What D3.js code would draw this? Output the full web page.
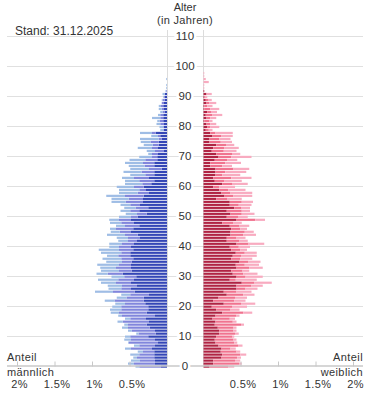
<!DOCTYPE html>
<html>
<head>
<meta charset="utf-8">
<script src="https://cdn.jsdelivr.net/npm/d3@7"></script>
<style>
  body { margin: 0; background: #fff; }
  text { font-family: "Liberation Sans", Arial, sans-serif; fill: #333; }
</style>
</head>
<body>
<div id="pyramid"></div>
<script>
// Bevoelkerungspyramide, Anteile je Altersjahr in Prozent

// ages 0..98 (one value per age)
const maleDark = [0.08,0.16,0.16,0.17,0.17,0.17,0.20,0.16,0.12,0.16,
  0.25,0.15,0.16,0.23,0.27,0.24,0.28,0.16,0.27,0.25,
  0.25,0.29,0.31,0.31,0.24,0.43,0.48,0.40,0.48,0.44,
  0.41,0.59,0.47,0.48,0.48,0.47,0.45,0.49,0.49,0.45,
  0.48,0.44,0.40,0.36,0.39,0.48,0.45,0.37,0.44,0.48,
  0.39,0.27,0.37,0.25,0.36,0.32,0.32,0.31,0.24,0.28,
  0.31,0.21,0.17,0.24,0.17,0.17,0.07,0.17,0.17,0.13,
  0.13,0.12,0.04,0.12,0.11,0.11,0.07,0.09,0.15,0.04,
  0.04,0.04,0.05,0.05,0.05,0.03,0.04,0.05,0.04,0.03,
  0.03,0.03,0,0,0,0,0,0,0];
const maleMid = [0.29,0.28,0.20,0.23,0.20,0.15,0.28,0.21,0.39,0.32,
  0.24,0.23,0.31,0.29,0.25,0.35,0.21,0.44,0.37,0.36,
  0.36,0.27,0.39,0.23,0.25,0.29,0.13,0.20,0.20,0.21,
  0.16,0.20,0.17,0.20,0.16,0.13,0.16,0.16,0.12,0.19,
  0.16,0.16,0.12,0.16,0.17,0.15,0.23,0.19,0.17,0.16,
  0.09,0.13,0.12,0.17,0.13,0.23,0.19,0.25,0.15,0.09,
  0.13,0.12,0.20,0.20,0.12,0.17,0.17,0.13,0.15,0.16,
  0.07,0.08,0.12,0.08,0.08,0.11,0.04,0.03,0.05,0.01,
  0.01,0.05,0.05,0.04,0.04,0.03,0.03,0.03,0.03,0.03,
  0.01,0,0.01,0,0,0,0,0,0];
const maleLight = [0.05,0.08,0.12,0.05,0.12,0.07,0.08,0.07,0.01,0.09,
  0.07,0.03,0.05,0.08,0.05,0.07,0.07,0.05,0.11,0.15,
  0.12,0.13,0.13,0.13,0.12,0.24,0.17,0.19,0.20,0.27,
  0.17,0.15,0.24,0.21,0.29,0.21,0.25,0.15,0.27,0.27,
  0.13,0.17,0.13,0.15,0.24,0.12,0.08,0.12,0.15,0.13,
  0.16,0.15,0.13,0.15,0.13,0.19,0.23,0.25,0.25,0.27,
  0.23,0.23,0.19,0.16,0.20,0.24,0.25,0.21,0.24,0.21,
  0.17,0.05,0.11,0.19,0.12,0.13,0.25,0.09,0.16,0.04,
  0.05,0.05,0.03,0.11,0.03,0.03,0.04,0.03,0,0.01,
  0.01,0.03,0.01,0.01,0.01,0,0.01,0,0];

const femaleDark = [0.08,0.13,0.13,0.24,0.25,0.23,0.24,0.20,0.16,0.15,
  0.17,0.21,0.21,0.19,0.15,0.16,0.12,0.16,0.25,0.17,
  0.11,0.27,0.13,0.20,0.31,0.27,0.44,0.44,0.51,0.35,
  0.44,0.39,0.37,0.44,0.43,0.48,0.37,0.39,0.43,0.37,
  0.35,0.44,0.31,0.31,0.36,0.36,0.37,0.35,0.25,0.44,
  0.31,0.36,0.31,0.41,0.35,0.35,0.17,0.28,0.24,0.21,
  0.13,0.25,0.15,0.13,0.16,0.16,0.16,0.09,0.09,0.15,
  0.20,0.17,0.11,0.13,0.17,0.08,0.08,0.12,0.09,0.03,
  0.05,0.04,0.01,0.04,0.03,0.05,0.01,0.01,0.04,0.03,
  0.01,0.04,0.01,0,0,0,0,0,0];
const femaleMid = [0.25,0.35,0.29,0.21,0.24,0.21,0.12,0.26,0.25,0.25,
  0.21,0.21,0.19,0.21,0.35,0.23,0.23,0.28,0.28,0.19,
  0.27,0.23,0.28,0.22,0.22,0.17,0.12,0.20,0.17,0.08,
  0.12,0.14,0.15,0.17,0.12,0.12,0.12,0.11,0.12,0.12,
  0.12,0.16,0.17,0.13,0.17,0.19,0.12,0.13,0.15,0.25,
  0.15,0.15,0.20,0.09,0.12,0.16,0.15,0.12,0.12,0.12,
  0.08,0.13,0.13,0.24,0.09,0.13,0.24,0.16,0.20,0.17,
  0.17,0.21,0.16,0.15,0.13,0.15,0.13,0.12,0.07,0.04,
  0.04,0.05,0.07,0.05,0.09,0.05,0.08,0.04,0.04,0.03,
  0.01,0,0,0,0,0,0,0,0];
const femaleLight = [0.08,0.03,0.07,0.05,0.08,0.05,0.07,0.06,0.04,0.04,
  0.03,0.05,0.04,0.04,0.04,0.05,0.07,0.04,0.12,0.12,
  0.20,0.19,0.15,0.16,0.15,0.20,0.16,0.15,0.23,0.28,
  0.23,0.19,0.09,0.18,0.19,0.16,0.16,0.21,0.16,0.09,
  0.15,0.21,0.11,0.12,0.17,0.12,0.09,0.13,0.11,0.13,
  0.13,0.17,0.11,0.12,0.17,0.15,0.19,0.25,0.29,0.23,
  0.21,0.21,0.23,0.27,0.24,0.28,0.21,0.13,0.21,0.13,
  0.27,0.11,0.17,0.19,0.11,0.15,0.15,0.15,0.23,0.05,
  0.12,0.08,0.04,0.08,0.13,0.08,0.12,0.07,0.09,0.05,
  0.03,0.07,0,0.01,0.01,0.07,0.03,0.01,0.01];

const ageTicks = d3.range(0, 111, 10);
const shareTicks = [0.5, 1, 1.5, 2];

const width = 375;
const height = 416;

const svg = d3.select("#pyramid")
  .append("svg")
  .attr("width", width)
  .attr("height", height);

// scales
const y = d3.scaleLinear().domain([0, 110]).range([365.5, 36]);
const xL = d3.scaleLinear().domain([0, 2]).range([167, 17]);
const xR = d3.scaleLinear().domain([0, 2]).range([203, 353]);
const barH = (y(0) - y(1)) - 0.8;

// grid
svg.append("g")
  .selectAll("line")
  .data(ageTicks.filter(d => d > 0))
  .join("line")
    .attr("x1", 7).attr("x2", 363)
    .attr("y1", d => Math.round(y(d)) + 0.5)
    .attr("y2", d => Math.round(y(d)) + 0.5)
    .attr("stroke", "#e0e0e0");

svg.append("g")
  .selectAll("line")
  .data([167, 203])
  .join("line")
    .attr("x1", d => d + 0.5).attr("x2", d => d + 0.5)
    .attr("y1", 30).attr("y2", y(0))
    .attr("stroke", "#dcdcdc");

// stacked bars
const rows = maleDark.map((d, i) => ({
  age: i,
  md: d, mm: maleMid[i], ml: maleLight[i],
  fd: femaleDark[i], fm: femaleMid[i], fl: femaleLight[i]
}));

const maleStack = d3.stack().keys(["md", "mm", "ml"])(rows);
const femaleStack = d3.stack().keys(["fd", "fm", "fl"])(rows);

const maleColor = d3.scaleOrdinal(["md", "mm", "ml"], ["#3446b6", "#8186dc", "#9fbde5"]);
const femaleColor = d3.scaleOrdinal(["fd", "fm", "fl"], ["#b02444", "#f0738f", "#f8abc0"]);

svg.append("g")
  .selectAll("g")
  .data(maleStack)
  .join("g")
    .attr("fill", s => maleColor(s.key))
  .selectAll("rect")
  .data(s => s.filter(d => d[1] > d[0]))
  .join("rect")
    .attr("x", d => xL(d[1]))
    .attr("width", d => xL(d[0]) - xL(d[1]))
    .attr("y", d => y(d.data.age))
    .attr("height", barH);

svg.append("g")
  .selectAll("g")
  .data(femaleStack)
  .join("g")
    .attr("fill", s => femaleColor(s.key))
  .selectAll("rect")
  .data(s => s.filter(d => d[1] > d[0]))
  .join("rect")
    .attr("x", d => xR(d[0]) + 0.5)
    .attr("width", d => xR(d[1]) - xR(d[0]))
    .attr("y", d => y(d.data.age))
    .attr("height", barH);

// base line and ticks
svg.append("line")
  .attr("x1", 7).attr("x2", 363)
  .attr("y1", y(0) + 0.5).attr("y2", y(0) + 0.5)
  .attr("stroke", "#c8c8c8")
  .attr("stroke-width", 1.5);

const axL = svg.append("g")
  .attr("transform", `translate(0,${y(0)})`)
  .call(d3.axisBottom(xL).tickValues(shareTicks).tickSize(0).tickFormat(d => d + "%"));
const axR = svg.append("g")
  .attr("transform", `translate(0,${y(0)})`)
  .call(d3.axisBottom(xR).tickValues(shareTicks).tickSize(0).tickFormat(d => d + "%"));

[axL, axR].forEach(ax => {
  ax.select(".domain").remove();
  ax.selectAll(".tick").append("line")
    .attr("y1", -4).attr("y2", 1)
    .attr("stroke", "#c8c8c8");
  ax.selectAll(".tick text")
    .attr("y", 22).attr("dy", 0).attr("dx", 2)
    .attr("fill", "#333")
    .style("font-size", "11px")
    .style("letter-spacing", "0.4px")
    .style("font-family", "'Liberation Sans', Arial, sans-serif");
});

// age labels
svg.append("g")
  .selectAll("text")
  .data(ageTicks)
  .join("text")
    .attr("x", 185)
    .attr("y", d => y(d) + 4)
    .attr("text-anchor", "middle")
    .attr("font-size", "11.5px")
    .attr("stroke", "#fff")
    .attr("stroke-width", 5)
    .attr("paint-order", "stroke")
    .text(d => d);

// titles
svg.append("text").attr("x", 185).attr("y", 11).attr("text-anchor", "middle")
  .attr("font-size", "11px").text("Alter");
svg.append("text").attr("x", 185).attr("y", 24).attr("text-anchor", "middle")
  .attr("font-size", "11px").style("letter-spacing", "0.3px").text("(in Jahren)");

svg.append("text").attr("x", 15).attr("y", 35)
  .attr("font-size", "12px").text("Stand: 31.12.2025");

svg.append("text").attr("x", 7).attr("y", 361)
  .attr("font-size", "11px").style("letter-spacing", "0.4px").text("Anteil");
svg.append("text").attr("x", 7).attr("y", 376)
  .attr("font-size", "11px").style("letter-spacing", "0.4px").text("männlich");
svg.append("text").attr("x", 363).attr("y", 361).attr("text-anchor", "end")
  .attr("font-size", "11px").style("letter-spacing", "0.4px").text("Anteil");
svg.append("text").attr("x", 363).attr("y", 376).attr("text-anchor", "end")
  .attr("font-size", "11px").style("letter-spacing", "0.4px").text("weiblich");
</script>
</body>
</html>
